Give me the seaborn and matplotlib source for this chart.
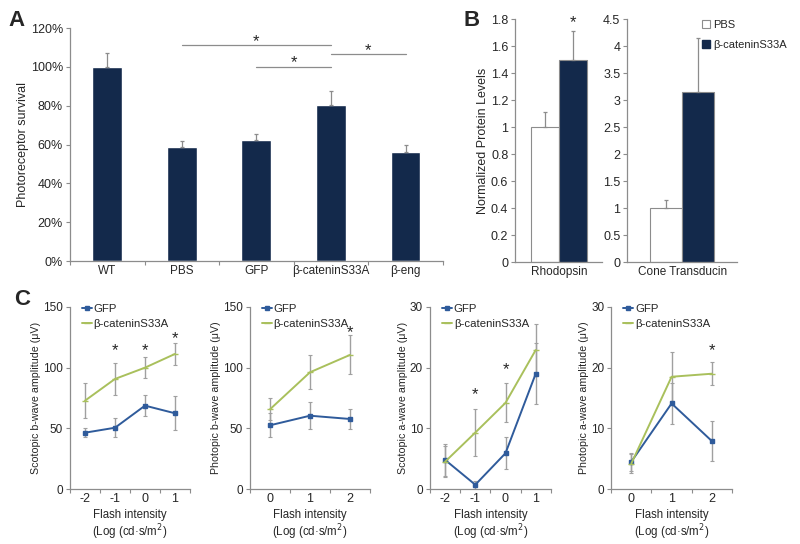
import numpy as np
import pandas as pd
import matplotlib
matplotlib.use("Agg")
import matplotlib.pyplot as plt
import seaborn as sns
from matplotlib.patches import Patch

sns.set_theme(style="white")
plt.rcParams['font.family'] = ['Liberation Sans', 'DejaVu Sans']

NAVY = "#13294b"
BLUE = "#2f5b9b"
GREEN = "#a9c05c"
GRAY = "#8c8c8c"

# ---------------- data ----------------
a_groups = ["WT", "PBS", "GFP", "β-cateninS33A", "β-eng"]
a_values = [100, 58.5, 62.5, 80.5, 56]
a_errors = [7, 3.5, 3, 7, 3.5]
a_yticks = [0, 20, 40, 60, 80, 100, 120]
a_ytick_labels = ["0%", "20%", "40%", "60%", "80%", "100%", "120%"]
# significance brackets: (from group, to group, line height %, star height %)
a_sig = [(1, 3, 111, 113), (2, 3, 100, 102), (3, 4, 106.5, 108.5)]

b_groups = ["PBS", "β-cateninS33A"]
b_rho_values = [1.0, 1.5]
b_rho_errors = [0.11, 0.21]
b_cone_values = [1.0, 3.15]
b_cone_errors = [0.15, 1.0]

series_names = ["GFP", "β-cateninS33A"]

c1_x = ["-2", "-1", "0", "1"]
c1_gfp = [46.4, 50.5, 68.7, 62.4]
c1_gfp_err = [3.5, 8, 8.5, 14]
c1_cat = [72.8, 90.7, 100, 111.3]
c1_cat_err = [14.5, 13.5, 8.5, 9]
c1_stars = [(1, 114), (2, 114), (3, 124)]

c2_x = ["0", "1", "2"]
c2_gfp = [52.5, 60.4, 57.7]
c2_gfp_err = [10, 11, 8.5]
c2_cat = [65.7, 96.2, 110.5]
c2_cat_err = [9, 14, 16]
c2_stars = [(2, 129)]

c3_x = ["-2", "-1", "0", "1"]
c3_gfp = [4.8, 0.7, 5.9, 19.0]
c3_gfp_err = [2.6, 0.7, 2.6, 5]
c3_cat = [4.5, 9.3, 14.2, 22.9]
c3_cat_err = [2.6, 3.9, 3.2, 4.3]
c3_stars = [(1, 15.6), (2, 19.6)]

c4_x = ["0", "1", "2"]
c4_gfp = [4.5, 14.1, 7.9]
c4_gfp_err = [1.5, 3.4, 3.3]
c4_cat = [4.2, 18.5, 19.0]
c4_cat_err = [1.5, 4.0, 1.9]
c4_stars = [(2, 22.8)]

c_ylabels = ["Scotopic b-wave amplitude (μV)", "Photopic b-wave amplitude (μV)",
             "Scotopic a-wave amplitude (μV)", "Photopic a-wave amplitude (μV)"]
c_xlabel = "Flash intensity\n(Log (cd·s/m$^2$)"

TICK_FS = 9
XTICK_FS = 8.5
LABEL_FS = 8.5


def style_axes(ax, yfs=TICK_FS, xfs=XTICK_FS):
    for s in ["top", "right"]:
        ax.spines[s].set_visible(False)
    for s in ["left", "bottom"]:
        ax.spines[s].set_color(GRAY)
        ax.spines[s].set_linewidth(0.9)
    ax.tick_params(axis="y", direction="out", length=3, width=0.8, color=GRAY,
                   labelsize=yfs, left=True, pad=2)
    ax.tick_params(axis="x", labelsize=xfs, pad=3)


def category_ticks(ax, n):
    ax.set_xlim(-0.5, n - 0.5)
    ax.set_xticks(range(n))
    ax.tick_params(axis="x", which="major", length=0)
    ax.set_xticks(np.arange(-0.5, n, 1.0), minor=True)
    ax.tick_params(axis="x", which="minor", direction="out", length=3,
                   width=0.8, color=GRAY, bottom=True)


fig = plt.figure(figsize=(8, 5.44), dpi=100)

# ---------------- panel A ----------------
axA = fig.add_axes([0.0875, 0.5202, 0.466, 0.4283])
dfA = pd.DataFrame({"group": a_groups, "value": a_values})
sns.barplot(data=dfA, x="group", y="value", color=NAVY, width=0.4,
            errorbar=None, ax=axA, saturation=1)
for i, (v, e) in enumerate(zip(a_values, a_errors)):
    axA.errorbar(i, v, yerr=[[0], [e]], fmt="none", ecolor=GRAY, elinewidth=0.9,
                 capsize=1.5, capthick=0.9)
axA.set_ylim(0, 120)
axA.set_yticks(a_yticks)
axA.set_yticklabels(a_ytick_labels)
axA.set_ylabel("Photoreceptor survival", fontsize=9, labelpad=1)
axA.set_xlabel("")
style_axes(axA)
category_ticks(axA, len(a_groups))
for g0, g1, h, sh in a_sig:
    axA.plot([g0, g1], [h, h], color=GRAY, lw=0.9, clip_on=False)
    axA.text((g0 + g1) / 2, sh, "*", ha="center", va="center", fontsize=12)
fig.text(0.011, 0.963, "A", fontsize=16, fontweight="bold", va="center", ha="left")


# ---------------- panel B ----------------
def b_panel(rect, cat, values, errors, width, ylim, yticks, yticklabels):
    ax = fig.add_axes(rect)
    df = pd.DataFrame({"cat": [cat] * 2, "group": b_groups, "value": values})
    sns.barplot(data=df, x="cat", y="value", hue="group", hue_order=b_groups,
                palette=["white", NAVY], width=width, errorbar=None, ax=ax,
                saturation=1, edgecolor=GRAY, linewidth=0.8, legend=False)
    for cont, v, e in zip(ax.containers, values, errors):
        p = cont.patches[0]
        xc = p.get_x() + p.get_width() / 2
        ax.errorbar(xc, v, yerr=[[0], [e]], fmt="none", ecolor=GRAY,
                    elinewidth=0.9, capsize=1.5, capthick=0.9)
    ax.set_ylim(*ylim)
    ax.set_yticks(yticks)
    ax.set_yticklabels(yticklabels)
    ax.set_xlim(-0.5, 0.5)
    ax.set_xlabel("")
    ax.set_ylabel("")
    style_axes(ax)
    ax.tick_params(axis="x", length=0)
    return ax


rho_ticks = [0, 0.2, 0.4, 0.6, 0.8, 1.0, 1.2, 1.4, 1.6, 1.8]
axB1 = b_panel([0.644, 0.518, 0.109, 0.447], "Rhodopsin", b_rho_values,
               b_rho_errors, 0.64, (0, 1.8), rho_ticks,
               ["0", "0.2", "0.4", "0.6", "0.8", "1", "1.2", "1.4", "1.6", "1.8"])
axB1.set_ylabel("Normalized Protein Levels", fontsize=9, labelpad=1.5)
p = axB1.containers[1].patches[0]
axB1.text(p.get_x() + p.get_width() / 2, 1.77, "*", ha="center", va="center",
          fontsize=12, clip_on=False)
cone_ticks = [0, 0.5, 1, 1.5, 2, 2.5, 3, 3.5, 4, 4.5]
axB2 = b_panel([0.784, 0.518, 0.1375, 0.447], "Cone Transducin", b_cone_values,
               b_cone_errors, 0.58, (0, 4.5), cone_ticks,
               ["0", "0.5", "1", "1.5", "2", "2.5", "3", "3.5", "4", "4.5"])
handles = [Patch(facecolor="white", edgecolor=GRAY, linewidth=0.8),
           Patch(facecolor=NAVY, edgecolor=NAVY)]
fig.legend(handles, b_groups, loc="upper left", bbox_to_anchor=(0.872, 0.972),
           frameon=False, fontsize=8, handlelength=0.7, handleheight=0.7,
           handletextpad=0.3, labelspacing=0.9, borderaxespad=0)
fig.text(0.579, 0.963, "B", fontsize=16, fontweight="bold", va="center", ha="left")

# ---------------- panel C ----------------
c_rects = [[0.0875, 0.1011, 0.15, 0.3346], [0.3125, 0.1011, 0.15, 0.3346],
           [0.5375, 0.1011, 0.151, 0.3346], [0.764, 0.1011, 0.151, 0.3346]]
c_sets = [(c1_x, c1_gfp, c1_gfp_err, c1_cat, c1_cat_err, c1_stars, 150, [0, 50, 100, 150]),
          (c2_x, c2_gfp, c2_gfp_err, c2_cat, c2_cat_err, c2_stars, 150, [0, 50, 100, 150]),
          (c3_x, c3_gfp, c3_gfp_err, c3_cat, c3_cat_err, c3_stars, 30, [0, 10, 20, 30]),
          (c4_x, c4_gfp, c4_gfp_err, c4_cat, c4_cat_err, c4_stars, 30, [0, 10, 20, 30])]

for rect, (xs, g, ge, c, ce, stars, ymax, yt), ylab in zip(c_rects, c_sets, c_ylabels):
    ax = fig.add_axes(rect)
    idx = list(range(len(xs)))
    for vals, errs in [(g, ge), (c, ce)]:
        ax.errorbar(idx, vals, yerr=errs, fmt="none", ecolor="#a0a0a0",
                    elinewidth=1.0, capsize=1.5, capthick=0.8, zorder=1)
    for name, vals, col, mk, ms in [(series_names[0], g, BLUE, "s", 3.5),
                                    (series_names[1], c, GREEN, "_", 4)]:
        df = pd.DataFrame({"x": idx, "y": vals})
        sns.lineplot(data=df, x="x", y="y", color=col, marker=mk,
                     markersize=ms, markeredgewidth=1.0, markeredgecolor=col,
                     lw=1.4, ax=ax, label=name, zorder=3)
    ax.legend(loc="upper left", bbox_to_anchor=(0.06, 1.04), frameon=False,
              fontsize=8.2, handlelength=0.9, handletextpad=0.15,
              labelspacing=0.4, borderaxespad=0)
    ax.set_ylim(0, ymax)
    ax.set_yticks(yt)
    ax.set_xticks(idx)
    ax.set_xticklabels(xs)
    ax.set_ylabel(ylab, fontsize=7.7, labelpad=1.5)
    ax.set_xlabel(c_xlabel, fontsize=8.3, labelpad=3, linespacing=1.05)
    style_axes(ax, yfs=LABEL_FS, xfs=9)
    category_ticks(ax, len(xs))
    for si, sy in stars:
        ax.text(si, sy, "*", ha="center", va="center", fontsize=12)

fig.text(0.018, 0.449, "C", fontsize=16, fontweight="bold", va="center", ha="left")

fig.savefig("out.png", dpi=100, facecolor="white")
